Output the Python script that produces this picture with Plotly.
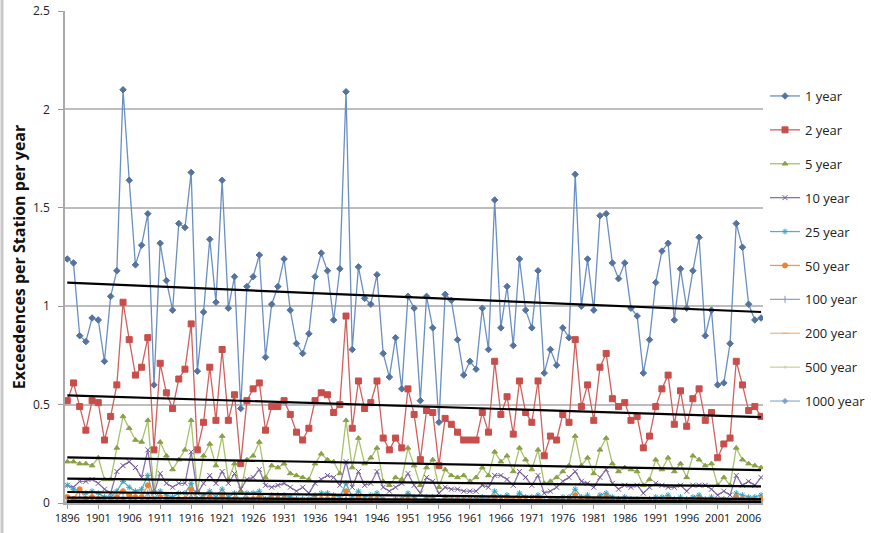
import numpy as np
import plotly.graph_objects as go

years = list(range(1896, 2009))

# Exceedences per station per year, one list per return period (rows by decade)
y1 = [1.24, 1.22, 0.85, 0.82,
      0.94, 0.93, 0.72, 1.05, 1.18, 2.10, 1.64, 1.21, 1.31, 1.47,
      0.60, 1.32, 1.13, 0.98, 1.42, 1.40, 1.68, 0.67, 0.97, 1.34,
      1.02, 1.64, 0.99, 1.15, 0.48, 1.10, 1.15, 1.26, 0.74, 1.01,
      1.10, 1.24, 0.98, 0.81, 0.76, 0.86, 1.15, 1.27, 1.18, 0.93,
      1.19, 2.09, 0.78, 1.20, 1.04, 1.01, 1.16, 0.76, 0.64, 0.84,
      0.58, 1.05, 0.99, 0.52, 1.05, 0.89, 0.41, 1.06, 1.03, 0.83,
      0.65, 0.72, 0.68, 0.99, 0.78, 1.54, 0.89, 1.10, 0.80, 1.24,
      0.98, 0.89, 1.18, 0.66, 0.78, 0.70, 0.89, 0.84, 1.67, 1.00,
      1.24, 0.98, 1.46, 1.47, 1.22, 1.14, 1.22, 0.99, 0.95, 0.66,
      0.83, 1.12, 1.28, 1.32, 0.93, 1.19, 0.99, 1.18, 1.35, 0.85,
      0.98, 0.60, 0.61, 0.81, 1.42, 1.30, 1.01, 0.93, 0.94]

y2 = [0.52, 0.61, 0.49, 0.37,
      0.52, 0.51, 0.32, 0.44, 0.60, 1.02, 0.83, 0.65, 0.69, 0.84,
      0.27, 0.71, 0.56, 0.48, 0.63, 0.68, 0.91, 0.27, 0.41, 0.69,
      0.42, 0.78, 0.42, 0.55, 0.20, 0.52, 0.58, 0.61, 0.37, 0.49,
      0.49, 0.52, 0.45, 0.36, 0.32, 0.38, 0.52, 0.56, 0.55, 0.46,
      0.50, 0.95, 0.38, 0.62, 0.48, 0.51, 0.62, 0.33, 0.27, 0.33,
      0.28, 0.58, 0.45, 0.22, 0.47, 0.46, 0.19, 0.43, 0.40, 0.36,
      0.32, 0.32, 0.32, 0.46, 0.36, 0.72, 0.45, 0.54, 0.35, 0.62,
      0.46, 0.41, 0.62, 0.24, 0.34, 0.32, 0.45, 0.41, 0.83, 0.49,
      0.60, 0.42, 0.69, 0.76, 0.53, 0.49, 0.51, 0.42, 0.44, 0.28,
      0.34, 0.49, 0.58, 0.65, 0.40, 0.57, 0.39, 0.53, 0.58, 0.42,
      0.46, 0.23, 0.30, 0.33, 0.72, 0.60, 0.47, 0.49, 0.44]

y5 = [0.21, 0.21, 0.20, 0.20,
      0.19, 0.23, 0.12, 0.12, 0.28, 0.44, 0.38, 0.32, 0.31, 0.42,
      0.06, 0.31, 0.24, 0.17, 0.22, 0.27, 0.42, 0.06, 0.24, 0.30,
      0.19, 0.34, 0.12, 0.20, 0.06, 0.22, 0.24, 0.31, 0.13, 0.19,
      0.18, 0.20, 0.15, 0.14, 0.13, 0.12, 0.20, 0.25, 0.22, 0.21,
      0.15, 0.42, 0.18, 0.33, 0.20, 0.23, 0.28, 0.11, 0.09, 0.13,
      0.12, 0.28, 0.19, 0.09, 0.18, 0.22, 0.08, 0.17, 0.14, 0.13,
      0.14, 0.11, 0.13, 0.18, 0.14, 0.26, 0.21, 0.24, 0.16, 0.28,
      0.22, 0.17, 0.27, 0.10, 0.11, 0.13, 0.16, 0.19, 0.34, 0.19,
      0.23, 0.15, 0.27, 0.33, 0.20, 0.16, 0.18, 0.17, 0.16, 0.09,
      0.12, 0.22, 0.17, 0.23, 0.16, 0.20, 0.13, 0.24, 0.22, 0.19,
      0.20, 0.09, 0.13, 0.09, 0.28, 0.22, 0.20, 0.19, 0.18]

y10 = [0.09, 0.08, 0.11, 0.11,
       0.12, 0.10, 0.07, 0.05, 0.16, 0.19, 0.21, 0.18, 0.13, 0.27,
       0.05, 0.15, 0.10, 0.08, 0.10, 0.10, 0.26, 0.05, 0.10, 0.14,
       0.10, 0.16, 0.10, 0.15, 0.07, 0.12, 0.13, 0.17, 0.09, 0.08,
       0.09, 0.10, 0.08, 0.06, 0.08, 0.05, 0.10, 0.12, 0.14, 0.13,
       0.09, 0.21, 0.08, 0.16, 0.09, 0.10, 0.16, 0.08, 0.06, 0.08,
       0.10, 0.15, 0.09, 0.05, 0.13, 0.11, 0.05, 0.08, 0.07, 0.07,
       0.06, 0.06, 0.06, 0.09, 0.08, 0.14, 0.14, 0.12, 0.09, 0.16,
       0.13, 0.09, 0.14, 0.05, 0.06, 0.08, 0.11, 0.13, 0.16, 0.11,
       0.10, 0.08, 0.13, 0.17, 0.10, 0.07, 0.09, 0.08, 0.09, 0.05,
       0.08, 0.10, 0.09, 0.08, 0.08, 0.09, 0.06, 0.09, 0.09, 0.09,
       0.07, 0.04, 0.06, 0.04, 0.14, 0.09, 0.11, 0.09, 0.13]

y25 = [0.09, 0.07, 0.06, 0.05,
       0.06, 0.05, 0.03, 0.03, 0.06, 0.11, 0.08, 0.06, 0.07, 0.14,
       0.02, 0.06, 0.04, 0.03, 0.05, 0.05, 0.10, 0.02, 0.04, 0.06,
       0.03, 0.07, 0.03, 0.05, 0.01, 0.05, 0.05, 0.06, 0.02, 0.04,
       0.04, 0.04, 0.03, 0.02, 0.02, 0.02, 0.04, 0.05, 0.05, 0.04,
       0.03, 0.10, 0.03, 0.06, 0.03, 0.04, 0.05, 0.02, 0.01, 0.02,
       0.02, 0.05, 0.03, 0.01, 0.03, 0.03, 0.01, 0.03, 0.02, 0.02,
       0.02, 0.02, 0.02, 0.03, 0.02, 0.06, 0.03, 0.04, 0.02, 0.05,
       0.03, 0.03, 0.04, 0.01, 0.02, 0.02, 0.03, 0.03, 0.07, 0.03,
       0.04, 0.02, 0.04, 0.05, 0.03, 0.02, 0.03, 0.02, 0.02, 0.01,
       0.02, 0.03, 0.03, 0.04, 0.02, 0.03, 0.02, 0.03, 0.04, 0.02,
       0.03, 0.01, 0.02, 0.01, 0.05, 0.04, 0.03, 0.03, 0.04]

y50 = [0.03, 0.02, 0.07, 0.02,
       0.03, 0.02, 0.01, 0.01, 0.03, 0.06, 0.04, 0.03, 0.03, 0.09,
       0.01, 0.03, 0.02, 0.01, 0.02, 0.02, 0.07, 0.01, 0.02, 0.03,
       0.01, 0.04, 0.01, 0.02, 0.00, 0.02, 0.02, 0.03, 0.01, 0.02,
       0.02, 0.02, 0.01, 0.01, 0.01, 0.01, 0.02, 0.02, 0.02, 0.02,
       0.01, 0.06, 0.01, 0.03, 0.01, 0.02, 0.02, 0.01, 0.00, 0.01,
       0.01, 0.02, 0.01, 0.00, 0.01, 0.01, 0.00, 0.01, 0.01, 0.01,
       0.01, 0.01, 0.01, 0.01, 0.01, 0.03, 0.01, 0.02, 0.01, 0.02,
       0.01, 0.01, 0.02, 0.00, 0.01, 0.01, 0.01, 0.01, 0.04, 0.01,
       0.02, 0.01, 0.02, 0.03, 0.01, 0.01, 0.01, 0.01, 0.01, 0.00,
       0.01, 0.01, 0.01, 0.02, 0.01, 0.01, 0.01, 0.01, 0.02, 0.01,
       0.01, 0.00, 0.01, 0.00, 0.03, 0.02, 0.01, 0.01, 0.02]

y100 = [0.01, 0.01, 0.03, 0.01,
        0.01, 0.01, 0.00, 0.00, 0.01, 0.03, 0.02, 0.01, 0.01, 0.05,
        0.00, 0.01, 0.01, 0.00, 0.01, 0.01, 0.04, 0.00, 0.01, 0.01,
        0.00, 0.02, 0.00, 0.01, 0.00, 0.01, 0.01, 0.01, 0.00, 0.01,
        0.01, 0.01, 0.00, 0.00, 0.00, 0.00, 0.01, 0.01, 0.01, 0.01,
        0.00, 0.03, 0.00, 0.01, 0.00, 0.01, 0.01, 0.00, 0.00, 0.00,
        0.00, 0.01, 0.00, 0.00, 0.00, 0.00, 0.00, 0.00, 0.00, 0.00,
        0.00, 0.00, 0.00, 0.01, 0.00, 0.02, 0.01, 0.01, 0.00, 0.01,
        0.01, 0.00, 0.01, 0.00, 0.00, 0.00, 0.00, 0.01, 0.02, 0.01,
        0.01, 0.00, 0.01, 0.02, 0.01, 0.00, 0.01, 0.00, 0.00, 0.00,
        0.00, 0.01, 0.00, 0.01, 0.00, 0.01, 0.00, 0.01, 0.01, 0.00,
        0.00, 0.00, 0.00, 0.00, 0.02, 0.01, 0.00, 0.01, 0.01]

y200 = [0.01, 0.00, 0.02, 0.00,
        0.01, 0.00, 0.00, 0.00, 0.00, 0.02, 0.01, 0.01, 0.00, 0.03,
        0.00, 0.01, 0.00, 0.00, 0.00, 0.01, 0.02, 0.00, 0.00, 0.01,
        0.00, 0.01, 0.00, 0.00, 0.00, 0.00, 0.01, 0.01, 0.00, 0.00,
        0.00, 0.01, 0.00, 0.00, 0.00, 0.00, 0.00, 0.01, 0.00, 0.00,
        0.00, 0.02, 0.00, 0.01, 0.00, 0.00, 0.01, 0.00, 0.00, 0.00,
        0.00, 0.00, 0.00, 0.00, 0.00, 0.00, 0.00, 0.00, 0.00, 0.00,
        0.00, 0.00, 0.00, 0.00, 0.00, 0.01, 0.00, 0.01, 0.00, 0.00,
        0.00, 0.00, 0.01, 0.00, 0.00, 0.00, 0.00, 0.00, 0.01, 0.00,
        0.01, 0.00, 0.00, 0.01, 0.00, 0.00, 0.00, 0.00, 0.00, 0.00,
        0.00, 0.00, 0.00, 0.01, 0.00, 0.00, 0.00, 0.00, 0.01, 0.00,
        0.00, 0.00, 0.00, 0.00, 0.01, 0.01, 0.00, 0.00, 0.00]

y500 = [0.00, 0.00, 0.01, 0.00,
        0.00, 0.00, 0.00, 0.00, 0.00, 0.01, 0.00, 0.00, 0.00, 0.02,
        0.00, 0.00, 0.00, 0.00, 0.00, 0.00, 0.01, 0.00, 0.00, 0.00,
        0.00, 0.01, 0.00, 0.00, 0.00, 0.00, 0.00, 0.00, 0.00, 0.00,
        0.00, 0.00, 0.00, 0.00, 0.00, 0.00, 0.00, 0.00, 0.00, 0.00,
        0.00, 0.01, 0.00, 0.00, 0.00, 0.00, 0.00, 0.00, 0.00, 0.00,
        0.00, 0.00, 0.00, 0.00, 0.00, 0.00, 0.00, 0.00, 0.00, 0.00,
        0.00, 0.00, 0.00, 0.00, 0.00, 0.01, 0.00, 0.00, 0.00, 0.00,
        0.00, 0.00, 0.00, 0.00, 0.00, 0.00, 0.00, 0.00, 0.01, 0.00,
        0.00, 0.00, 0.00, 0.01, 0.00, 0.00, 0.00, 0.00, 0.00, 0.00,
        0.00, 0.00, 0.00, 0.00, 0.00, 0.00, 0.00, 0.00, 0.00, 0.00,
        0.00, 0.00, 0.00, 0.00, 0.01, 0.00, 0.00, 0.00, 0.00]

y1000 = [0.00, 0.00, 0.00, 0.00,
         0.00, 0.00, 0.00, 0.00, 0.00, 0.01, 0.00, 0.00, 0.00, 0.01,
         0.00, 0.00, 0.00, 0.00, 0.00, 0.00, 0.01, 0.00, 0.00, 0.00,
         0.00, 0.00, 0.00, 0.00, 0.00, 0.00, 0.00, 0.00, 0.00, 0.00,
         0.00, 0.00, 0.00, 0.00, 0.00, 0.00, 0.00, 0.00, 0.00, 0.00,
         0.00, 0.01, 0.00, 0.00, 0.00, 0.00, 0.00, 0.00, 0.00, 0.00,
         0.00, 0.00, 0.00, 0.00, 0.00, 0.00, 0.00, 0.00, 0.00, 0.00,
         0.00, 0.00, 0.00, 0.00, 0.00, 0.00, 0.00, 0.00, 0.00, 0.00,
         0.00, 0.00, 0.00, 0.00, 0.00, 0.00, 0.00, 0.00, 0.01, 0.00,
         0.00, 0.00, 0.00, 0.00, 0.00, 0.00, 0.00, 0.00, 0.00, 0.00,
         0.00, 0.00, 0.00, 0.00, 0.00, 0.00, 0.00, 0.00, 0.00, 0.00,
         0.00, 0.00, 0.00, 0.00, 0.00, 0.00, 0.00, 0.00, 0.00]

series_names = ["1 year", "2 year", "5 year", "10 year", "25 year",
                "50 year", "100 year", "200 year", "500 year", "1000 year"]
series_values = [y1, y2, y5, y10, y25, y50, y100, y200, y500, y1000]

# line colour, marker colour, marker symbol, marker size
styles = [
    ("#6a8fc2", "#55739f", "diamond", 5),
    ("#d0605d", "#c84e4b", "square", 6),
    ("#a8c26a", "#8a9f48", "triangle-up", 5),
    ("#8a72aa", "#6f5a92", "x-thin-open", 5),
    ("#4fb3cc", "#3ea2bb", "asterisk-open", 5),
    ("#f79646", "#e9832f", "circle", 5),
    ("#93a6c9", "#8396bd", "line-ns-open", 5),
    ("#f5b88d", "#f0a878", "line-ew-open", 5),
    ("#c6d9a0", "#c6d9a0", "circle", 1),
    ("#95b3d7", "#7fa2cc", "diamond", 4),
]

x_left, x_right = 1895.63, 2008.32
px_w = 698.0
px_h = 492.0


def px_x(px):
    return (px - 65.0) / px_w


def px_y(py):
    return (503.0 - py) / px_h


fig = go.Figure()

for name, vals, (lc, mc, sym, ms) in zip(series_names, series_values, styles):
    fig.add_trace(go.Scatter(
        x=years, y=vals, name=name, legendgroup=name,
        mode="lines+markers",
        line=dict(color=lc, width=1.3),
        marker=dict(color=mc, symbol=sym, size=ms,
                    line=dict(color=mc, width=1)),
    ))

# Linear trend line for every series
yr = np.array(years, dtype=float)
for name, vals in zip(series_names, series_values):
    slope, icpt = np.polyfit(yr, np.array(vals, dtype=float), 1)
    ends = [years[0], years[-1]]
    fig.add_trace(go.Scatter(
        x=ends, y=[slope * e + icpt for e in ends],
        mode="lines", line=dict(color="#000000", width=2.2),
        showlegend=False, hoverinfo="skip",
    ))

fig.update_layout(
    width=871, height=533,
    margin=dict(l=65, r=108, t=11, b=30, autoexpand=False),
    paper_bgcolor="white", plot_bgcolor="white",
    font=dict(family="Open Sans, Arial, sans-serif", color="#222222"),
    xaxis=dict(
        range=[x_left, x_right], automargin=False,
        tickmode="array",
        tickvals=years[::5],
        ticktext=[str(v) for v in years[::5]],
        tickfont=dict(size=11, color="#111111"),
        ticks="outside", ticklen=4, tickcolor="#999999",
        showgrid=False, zeroline=False,
        showline=True, linecolor="#aaaaaa", linewidth=1.5,
    ),
    yaxis=dict(
        range=[0, 2.5], dtick=0.5, automargin=False,
        tickfont=dict(size=12, color="#222222"),
        ticks="outside", ticklen=5, tickcolor="#999999",
        ticklabelstandoff=6,
        showgrid=True, gridcolor="#bdbdbd", gridwidth=2,
        zeroline=False,
        showline=True, linecolor="#aaaaaa", linewidth=1.5,
        title=dict(
            text="<b>Exceedences per Station per year</b>",
            font=dict(size=16, color="#111111"),
            standoff=3,
        ),
    ),
    legend=dict(
        x=px_x(765), y=px_y(81), xanchor="left", yanchor="top",
        traceorder="grouped", tracegroupgap=14,
        font=dict(size=13, color="#222222"),
        bgcolor="rgba(0,0,0,0)", itemwidth=30,
    ),
    showlegend=True,
)

fig.add_shape(
    type="line", xref="paper", yref="paper",
    x0=px_x(2), x1=px_x(2), y0=px_y(533), y1=px_y(0),
    line=dict(color="#c8c8c8", width=3),
)

fig.write_html("out.html")
